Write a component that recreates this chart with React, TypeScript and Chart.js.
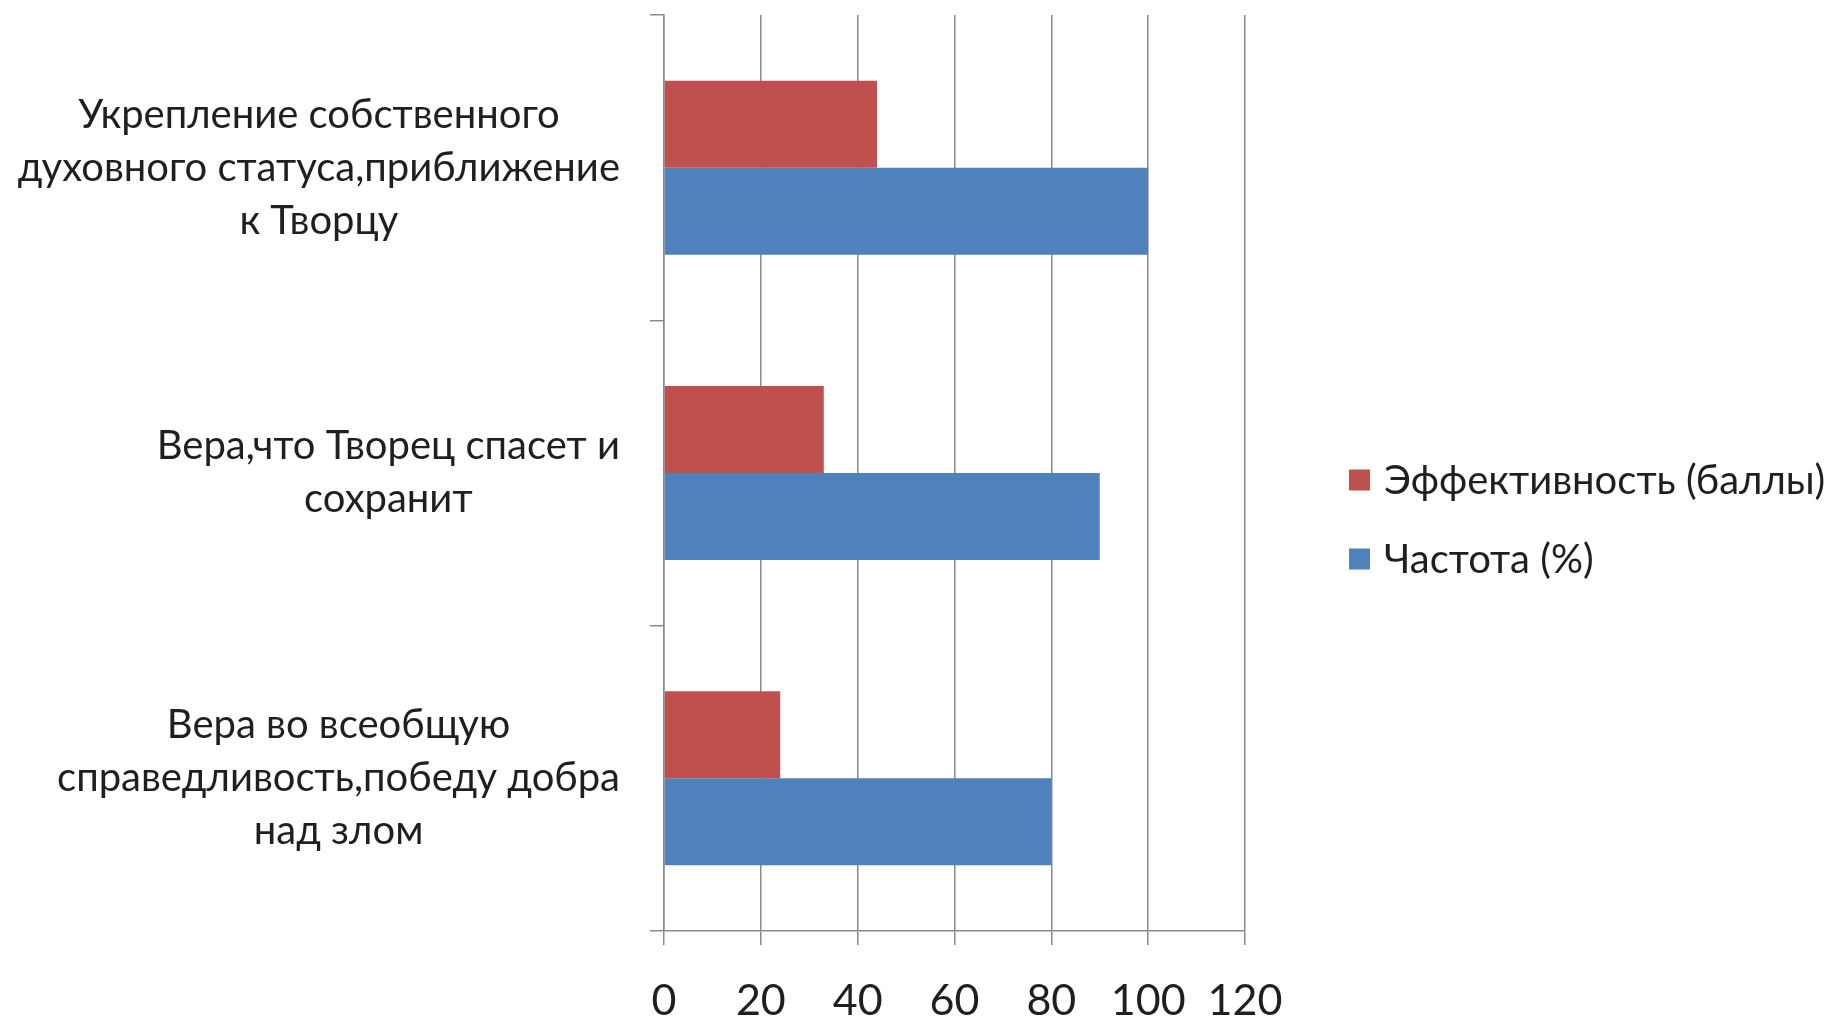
import React, { useEffect, useRef } from "react";
import { Chart, registerables } from "chart.js";

Chart.register(...registerables);

const categories: string[][] = [
  ["Укрепление собственного", "духовного статуса,приближение", "к Творцу"],
  ["Вера,что Творец спасет и", "сохранит"],
  ["Вера во всеобщую", "справедливость,победу добра", "над злом"],
];
const seriesNames = ["Эффективность (баллы)", "Частота (%)"];
const effectiveness = [44, 33, 24];
const frequency = [100, 90, 80];
const xTicks = [0, 20, 40, 60, 80, 100, 120];

const FONT = "Lato, 'Noto Sans', sans-serif";
const TEXT = "#1f1f1f";
const GRID = "#8a8a8a";
const RED = "#C0504D";
const BLUE = "#4F81BD";
const LABEL_SIZE = 40;
const LINE_H = 53;

const yLabelPlugin = {
  id: "yLabels",
  afterDraw(chart: any) {
    const { ctx, chartArea, scales } = chart;
    const y = scales.y;
    ctx.save();
    ctx.font = `${LABEL_SIZE}px ${FONT}`;
    ctx.fillStyle = TEXT;
    ctx.textAlign = "center";
    ctx.textBaseline = "middle";
    const right = chartArea.left - 44;
    categories.forEach((lines, i) => {
      const cy = y.getPixelForValue(i);
      const widest = Math.max(...lines.map((l) => ctx.measureText(l).width));
      const cx = right - widest / 2;
      const n = lines.length;
      lines.forEach((l, j) => ctx.fillText(l, cx, cy + (j - (n - 1) / 2) * LINE_H));
    });
    ctx.restore();
  },
};

const legendPlugin = {
  id: "sideLegend",
  afterDraw(chart: any) {
    const { ctx, chartArea } = chart;
    ctx.save();
    ctx.font = `${LABEL_SIZE}px ${FONT}`;
    ctx.textAlign = "left";
    ctx.textBaseline = "middle";
    const boxX = chartArea.right + 104;
    const centers = [480, 559];
    chart.data.datasets.forEach((ds: any, i: number) => {
      const cy = centers[i];
      ctx.fillStyle = ds.backgroundColor;
      ctx.fillRect(boxX, cy - 10.5, 21, 21);
      ctx.fillStyle = TEXT;
      ctx.fillText(ds.label, boxX + 35, cy + 1);
    });
    ctx.restore();
  },
};

export default function App() {
  const ref = useRef<HTMLCanvasElement | null>(null);

  useEffect(() => {
    if (!ref.current) return;
    const chart = new Chart(ref.current, {
      type: "bar",
      data: {
        labels: categories,
        datasets: [
          {
            label: seriesNames[0],
            data: effectiveness,
            backgroundColor: RED,
            borderWidth: 0,
            barPercentage: 1,
            categoryPercentage: 0.57,
          },
          {
            label: seriesNames[1],
            data: frequency,
            backgroundColor: BLUE,
            borderWidth: 0,
            barPercentage: 1,
            categoryPercentage: 0.57,
          },
        ],
      },
      options: {
        indexAxis: "y",
        responsive: false,
        animation: false,
        layout: { padding: { top: 15, right: 586, left: 0, bottom: 0 } },
        plugins: {
          legend: { display: false },
          tooltip: { enabled: false },
        },
        scales: {
          x: {
            type: "linear",
            min: xTicks[0],
            max: xTicks[xTicks.length - 1],
            afterFit: (s: any) => {
              s.height = 90;
            },
            ticks: {
              stepSize: xTicks[1] - xTicks[0],
              color: TEXT,
              font: { family: FONT, size: 43 },
              padding: 30,
              maxRotation: 0,
            },
            grid: {
              color: GRID,
              lineWidth: 1.5,
              tickLength: 14,
              drawOnChartArea: true,
              drawTicks: true,
            },
            border: { display: true, color: GRID, width: 1.5 },
          },
          y: {
            type: "category",
            afterFit: (s: any) => {
              s.width = 664;
            },
            ticks: { display: false },
            grid: {
              offset: true,
              color: GRID,
              lineWidth: 1.5,
              tickLength: 14,
              drawOnChartArea: false,
              drawTicks: true,
            },
            border: { display: true, color: GRID, width: 1.5 },
          },
        },
      } as any,
      plugins: [yLabelPlugin, legendPlugin],
    });
    return () => chart.destroy();
  }, []);

  return (
    <div
      style={{
        position: "absolute",
        left: 0,
        top: 0,
        width: 1831,
        height: 1021,
        background: "#fff",
      }}
    >
      <canvas ref={ref} width={1831} height={1021} style={{ display: "block" }} />
    </div>
  );
}
